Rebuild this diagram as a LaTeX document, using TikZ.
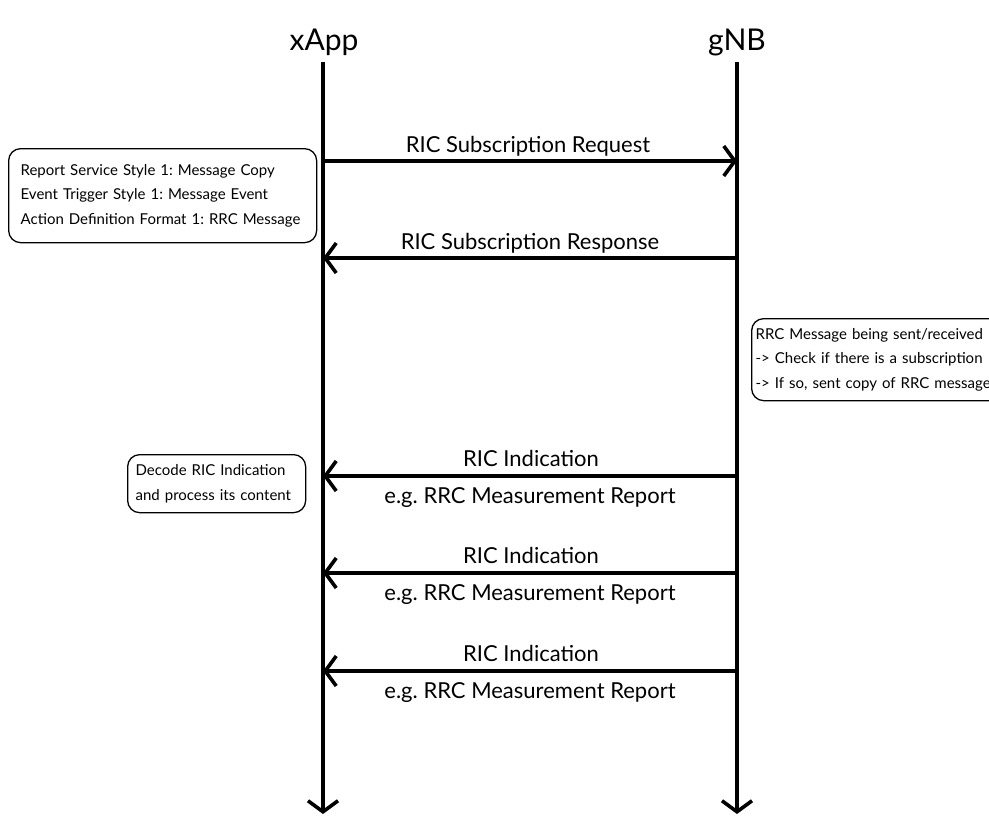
\documentclass[tikz,border=0pt]{standalone}
\usepackage{fontspec}
\setmainfont{Lato}
\usetikzlibrary{arrows.meta}
\frenchspacing
\begin{document}
\begin{tikzpicture}[x=1pt,y=-1pt,
  lifeline/.style={line width=3.6pt,-{Straight Barb[length=11pt,width=30pt,line width=3.6pt]}},
  msg/.style={line width=3.6pt,-{Straight Barb[length=11pt,width=30pt,line width=3.6pt]}},
  party/.style={font=\fontsize{30}{34}\selectfont,inner sep=0pt,anchor=base},
  msglabel/.style={font=\fontsize{22}{26}\selectfont,inner sep=0pt,anchor=base},
  note/.style={draw,line width=1.3pt,rounded corners=12pt,align=left,
    font=\fontsize{15}{24.5}\selectfont,inner ysep=4pt,anchor=north west}]
\useasboundingbox (0,0) rectangle (989,816);
\clip (0,0) rectangle (989,816);

% participants
\node[party] (xapp) at (324,51) {xApp};
\node[party] (gnb) at (737,51) {gNB};
\coordinate (xtop) at (323,62);
\coordinate (gtop) at (737,62);
\coordinate (xbot) at (323,814);
\coordinate (gbot) at (737,814);
\draw[lifeline] (xtop) -- (xbot);
\draw[lifeline] (gtop) -- (gbot);

% message endpoints on the lifelines
\coordinate (x1) at (323,161); \coordinate (g1) at (737,161);
\coordinate (x2) at (323,258); \coordinate (g2) at (737,258);
\coordinate (x3) at (323,476); \coordinate (g3) at (737,476);
\coordinate (x4) at (323,573); \coordinate (g4) at (737,573);
\coordinate (x5) at (323,671); \coordinate (g5) at (737,671);

\draw[msg] (x1) -- (g1);
\draw[msg] (g2) -- (x2);
\draw[msg] (g3) -- (x3);
\draw[msg] (g4) -- (x4);
\draw[msg] (g5) -- (x5);

% message labels
\node[msglabel] (l1) at (528,152) {RIC Subscription Request};
\node[msglabel] (l2) at (530,249) {RIC Subscription Response};
\node[msglabel] (l3a) at (531,466) {RIC Indication};
\node[msglabel] (l3b) at (530,503) {e.g. RRC Measurement Report};
\node[msglabel] (l4a) at (531,563) {RIC Indication};
\node[msglabel] (l4b) at (530,600) {e.g. RRC Measurement Report};
\node[msglabel] (l5a) at (531,661) {RIC Indication};
\node[msglabel] (l5b) at (530,698) {e.g. RRC Measurement Report};

% notes
\node[note,text width=284pt,inner xsep=12pt,minimum height=94pt] (n1) at (8,148)
  {\mbox{Report Service Style 1: Message Copy}\\\mbox{Event Trigger Style 1: Message Event}\\\mbox{Action Definition Format 1: RRC Message}};
\node[note,text width=260pt,inner xsep=4pt,minimum height=82pt] (n2) at (751,318)
  {\mbox{RRC Message being sent/received}\\\mbox{-> Check if there is a subscription}\\\mbox{-> If so, sent copy of RRC message}};
\node[note,text width=162pt,inner xsep=8pt,minimum height=58pt] (n3) at (127,454)
  {\mbox{Decode RIC Indication}\\\mbox{and process its content}};
\end{tikzpicture}
\end{document}
